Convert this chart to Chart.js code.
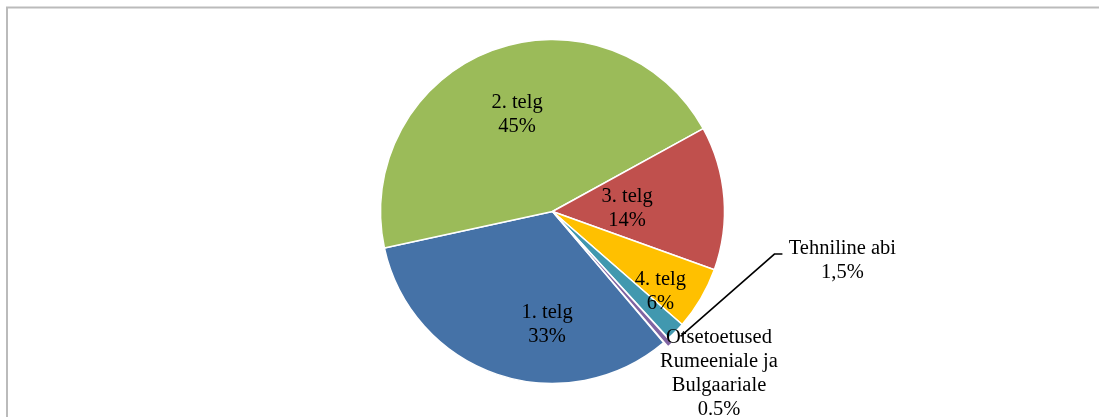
<!DOCTYPE html>
<html>
<head>
<meta charset="utf-8">
<script src="https://cdn.jsdelivr.net/npm/chart.js@4/dist/chart.umd.min.js"></script>
<style>
  html, body { margin: 0; padding: 0; background: #fff; overflow: hidden; }
  #wrap { width: 1099px; height: 417px; position: relative; }
</style>
</head>
<body>
<div id="wrap"><canvas id="chart"></canvas></div>
<script>
// slices, clockwise
const categories = [
    ['1. telg'],
    ['2. telg'],
    ['3. telg'],
    ['4. telg'],
    ['Tehniline abi'],
    ['Otsetoetused', 'Rumeeniale ja', 'Bulgaariale'],
];
const shares = [32.8, 45.4, 13.5, 5.9, 1.8, 0.6];
const shareLabels = ['33%', '45%', '14%', '6%', '1,5%', '0.5%'];
const colors = ['#4572A7', '#9BBB59', '#C0504D', '#FFC000', '#4198AF', '#8064A2'];

// where each label sits: fraction of radius along slice middle, plus angle nudge (deg)
const placement = [
    { frac: 0.66, nudge: -16 },
    { frac: 0.60, nudge: 0.4 },
    { frac: 0.434, nudge: 2 },
    { frac: 0.78, nudge: 6 },
    { frac: 1.71, nudge: -34.6, leader: true },
    { frac: 1.353, nudge: -4.3 },
];

const frame = {
    id: 'frame',
    beforeDraw(chart) {
        const ctx = chart.ctx;
        ctx.save();
        ctx.strokeStyle = '#BBBBBB';
        ctx.lineWidth = 2;
        ctx.strokeRect(7, 7.5, 1300, 700);
        ctx.restore();
    },
};

const sliceLabels = {
    id: 'sliceLabels',
    afterDatasetsDraw(chart) {
        const ctx = chart.ctx;
        const meta = chart.getDatasetMeta(0);
        ctx.save();
        ctx.font = '20.5px "Liberation Serif", "Times New Roman", serif';
        ctx.fillStyle = '#000';
        ctx.textAlign = 'center';
        ctx.textBaseline = 'middle';
        meta.data.forEach((arc, i) => {
            const { x, y, startAngle, endAngle, outerRadius } = arc.getProps(
                ['x', 'y', 'startAngle', 'endAngle', 'outerRadius'], true);
            const mid = (startAngle + endAngle) / 2;
            const p = placement[i];
            const a = mid + p.nudge * Math.PI / 180;
            const cx = x + Math.cos(a) * outerRadius * p.frac;
            const cy = y + Math.sin(a) * outerRadius * p.frac;
            const lines = categories[i].concat([shareLabels[i]]);
            const lh = 24;
            if (p.leader) {
                ctx.beginPath();
                ctx.strokeStyle = '#000';
                ctx.lineWidth = 1.6;
                ctx.moveTo(x + Math.cos(mid) * outerRadius * 1.04, y + Math.sin(mid) * outerRadius * 1.04);
                ctx.lineTo(cx - 68, cy - 7);
                ctx.lineTo(cx - 60, cy - 7);
                ctx.stroke();
            }
            lines.forEach((t, k) => {
                ctx.fillText(t, cx, cy + (k - (lines.length - 1) / 2) * lh);
            });
        });
        ctx.restore();
    },
};

const ctx = document.getElementById('chart').getContext('2d');
new Chart(ctx, {
    type: 'pie',
    data: {
        labels: categories.map(c => c.join(' ')),
        datasets: [
            {
                data: shares,
                backgroundColor: colors,
                borderColor: '#ffffff',
                borderWidth: 1.5,
                offset: [0, 0, 0, 0, 0, 12],
                clip: false,
            },
        ],
    },
    options: {
        responsive: true,
        maintainAspectRatio: false,
        animation: false,
        radius: 172,
        rotation: 139.7,
        layout: { padding: { left: 6, right: 0, top: 6, bottom: 0 } },
        plugins: {
            legend: { display: false },
            tooltip: { enabled: false },
        },
    },
    plugins: [frame, sliceLabels],
});
</script>
</body>
</html>
